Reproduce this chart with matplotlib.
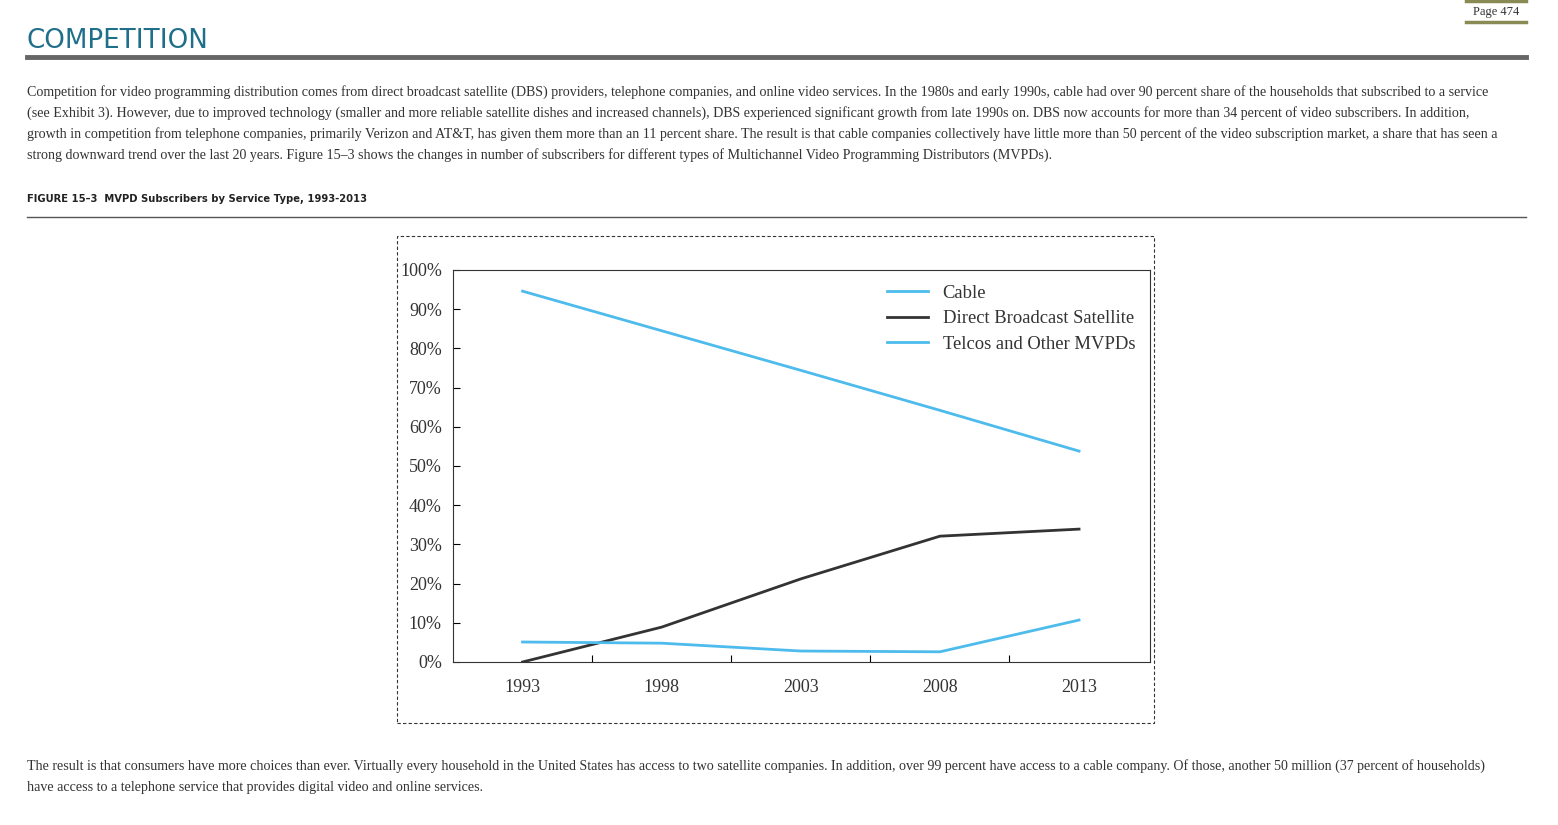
import matplotlib.pyplot as plt
from matplotlib.lines import Line2D
from matplotlib.patches import Rectangle

years = [1993, 1998, 2003, 2008, 2013]
cable = [94.6, 84.5, 74.4, 64.2, 53.8]
dbs = [0.0, 8.9, 21.2, 32.1, 33.9]
telcos = [5.1, 4.8, 2.8, 2.6, 10.7]
minor_ticks = [1995.5, 2000.5, 2005.5, 2010.5]
y_ticks = list(range(0, 101, 10))

W, H = 1558, 825
fig = plt.figure(figsize=(W / 100, H / 100), dpi=100)

def px(x, y):
    return x / W, 1 - y / H

serif = 'Liberation Serif'
text_col = '#333333'

# page header
fig.text(*px(1496, 12), 'Page 474', family=serif, fontsize=9, color=text_col, ha='center', va='center')
for yy in (1, 22):
    fig.add_artist(Line2D([1466 / W, 1526 / W], [1 - yy / H] * 2, color='#8a8a55', lw=2.5))
fig.text(*px(27, 41), 'COMPETITION', fontsize=18.8, color='#1f6f8b', family='DejaVu Sans', va='center')
fig.add_artist(Line2D([27 / W, 1526 / W], [1 - 57 / H] * 2, color='#666666', lw=3.5))

body = [
    "Competition for video programming distribution comes from direct broadcast satellite (DBS) providers, telephone companies, and online video services. In the 1980s and early 1990s, cable had over 90 percent share of the households that subscribed to a service",
    "(see Exhibit 3). However, due to improved technology (smaller and more reliable satellite dishes and increased channels), DBS experienced significant growth from late 1990s on. DBS now accounts for more than 34 percent of video subscribers. In addition,",
    "growth in competition from telephone companies, primarily Verizon and AT&T, has given them more than an 11 percent share. The result is that cable companies collectively have little more than 50 percent of the video subscription market, a share that has seen a",
    "strong downward trend over the last 20 years. Figure 15\u20133 shows the changes in number of subscribers for different types of Multichannel Video Programming Distributors (MVPDs).",
]
for i, line in enumerate(body):
    fig.text(*px(27, 92 + 21 * i), line, family=serif, fontsize=10.1, color=text_col, va='center')

fig.text(*px(27, 199), 'FIGURE 15\u20133  MVPD Subscribers by Service Type, 1993-2013',
         fontsize=7.2, fontweight='bold', color='#222222', va='center')
fig.add_artist(Line2D([27 / W, 1526 / W], [1 - 217 / H] * 2, color='#555555', lw=1))

fig.add_artist(Rectangle(px(397, 723), 757 / W, 487 / H, fill=False, ls=(0, (3, 2)), lw=0.8, ec='#333333'))

tail = [
    "The result is that consumers have more choices than ever. Virtually every household in the United States has access to two satellite companies. In addition, over 99 percent have access to a cable company. Of those, another 50 million (37 percent of households)",
    "have access to a telephone service that provides digital video and online services.",
]
for i, line in enumerate(tail):
    fig.text(*px(27, 766 + 21 * i), line, family=serif, fontsize=10.1, color=text_col, va='center')

# chart
ax = fig.add_axes([453 / W, 1 - 662 / H, 697 / W, 392 / H])
ax.plot(years, cable, color='#4dbbec', lw=2, label='Cable')
ax.plot(years, dbs, color='#333333', lw=2, label='Direct Broadcast Satellite')
ax.plot(years, telcos, color='#4dbbec', lw=2, label='Telcos and Other MVPDs')
ax.set_xlim(1990.5, 2015.55)
ax.set_ylim(0, 100)
ax.set_yticks(y_ticks)
ax.set_yticklabels([f'{v}%' for v in y_ticks], family=serif, fontsize=13, color='#333333')
ax.set_xticks(minor_ticks)
ax.set_xticklabels([])
ax.set_xticks(years, minor=True)
ax.set_xticklabels([str(y) for y in years], minor=True, family=serif, fontsize=13, color='#333333')
ax.tick_params(axis='x', which='minor', length=0, pad=12)
ax.tick_params(axis='x', which='major', direction='in', length=5)
ax.tick_params(axis='y', direction='in', length=5, pad=8)
for s in ax.spines.values():
    s.set_color('#333333')
leg = ax.legend(loc='upper right', frameon=False, prop={'family': serif, 'size': 13.4},
                handlelength=2.2, labelspacing=0.45, borderaxespad=0.4)
for t in leg.get_texts():
    t.set_color('#333333')

fig.savefig('out.png', dpi=100)
